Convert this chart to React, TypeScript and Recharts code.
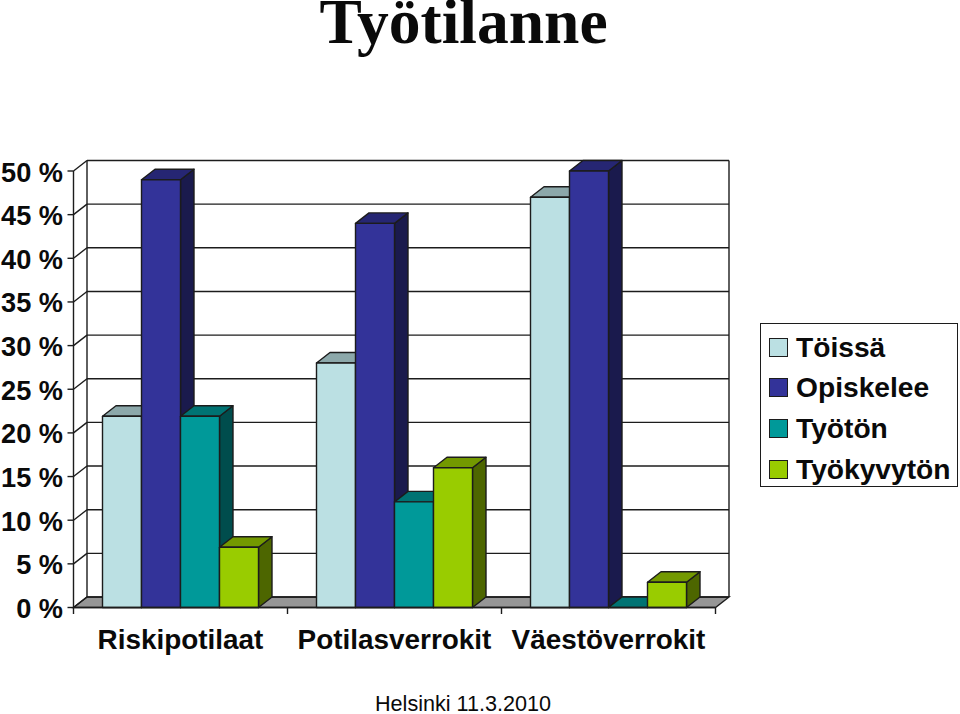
import React from "react"
import { BarChart, Bar, XAxis, YAxis, CartesianGrid, Legend } from "recharts"

const categories = ["Riskipotilaat", "Potilasverrokit", "Väestöverrokit"]
const toissa = [21.9, 28, 47]
const opiskelee = [49, 44, 50]
const tyoton = [21.9, 12.1, 0]
const tyokyvyton = [6.9, 16, 2.9]
const yTicks = [0, 5, 10, 15, 20, 25, 30, 35, 40, 45, 50]

const data = categories.map((name, i) => ({
  name,
  toissa: toissa[i],
  opiskelee: opiskelee[i],
  tyoton: tyoton[i],
  tyokyvyton: tyokyvyton[i],
}))

const W = 960
const H = 714
const LEFT = 73.5
const RIGHT = 715.5
const TOP = 171
const BOTTOM = 607.5
const DX = 13.5
const DY = 10.5
const INK = "#1c1c1c"
const LW = 1.4
const SANS = "'Liberation Sans', Arial, sans-serif"

const bandW = (RIGHT - LEFT) / categories.length

function box3d(fill: string, top: string, side: string) {
  return (p: any) => {
    const { x, y, width, height } = p
    const r = x + width
    const b = y + height
    return (
      <g stroke={INK} strokeWidth={LW} strokeLinejoin="round">
        <polygon fill={side} points={`${r},${y} ${r + DX},${y - DY} ${r + DX},${b - DY} ${r},${b}`} />
        <polygon fill={top} points={`${x},${y} ${x + DX},${y - DY} ${r + DX},${y - DY} ${r},${y}`} />
        <rect x={x} y={y} width={width} height={height} fill={fill} />
      </g>
    )
  }
}

// back wall, floor and the slanted bits, drawn from the grid so they stay under the bars
function wallLine(p: any) {
  const { x1, x2, y1, key } = p
  const isFloor = Math.abs(y1 - BOTTOM) < 1
  return (
    <g key={key} stroke={INK} strokeWidth={LW} fill="none">
      {isFloor && (
        <polygon
          fill="#969696"
          points={`${x1},${y1} ${x1 + DX},${y1 - DY} ${x2 + DX},${y1 - DY} ${x2},${y1}`}
        />
      )}
      {isFloor && <line x1={x1 + DX} x2={x1 + DX} y1={y1 - DY} y2={TOP - DY} />}
      {isFloor && <line x1={x2 + DX} x2={x2 + DX} y1={y1 - DY} y2={TOP - DY} />}
      <line x1={x1} y1={y1} x2={x1 + DX} y2={y1 - DY} />
      <line x1={x1 + DX} y1={y1 - DY} x2={x2 + DX} y2={y1 - DY} />
    </g>
  )
}

function CategoryTick(p: any) {
  const { x, payload, index } = p
  const left = x - bandW / 2
  return (
    <g>
      <line x1={left} x2={left} y1={BOTTOM} y2={BOTTOM + 6.5} stroke={INK} strokeWidth={LW} />
      {index === categories.length - 1 && (
        <line x1={left + bandW} x2={left + bandW} y1={BOTTOM} y2={BOTTOM + 6.5} stroke={INK} strokeWidth={LW} />
      )}
      <text x={x} y={649} textAnchor="middle" fontFamily={SANS} fontWeight="bold" fontSize={27.9} fill="#0a0a0a">
        {payload.value}
      </text>
    </g>
  )
}

function PercentTick(p: any) {
  const { y, payload } = p
  return (
    <text x={63} y={y + 10.5} textAnchor="end" fontFamily={SANS} fontWeight="bold" fontSize={27.2} fill="#0a0a0a">
      {payload.value} %
    </text>
  )
}

function LegendBox(p: any) {
  return (
    <div
      style={{
        boxSizing: "border-box",
        width: 198,
        height: 164,
        border: `1.4px solid ${INK}`,
        background: "#fff",
        position: "relative",
      }}
    >
      {p.payload.map((e: any, i: number) => (
        <div
          key={e.value}
          style={{
            position: "absolute",
            left: 8,
            top: 13 + i * 40.7,
            display: "flex",
            alignItems: "center",
            height: 20,
            whiteSpace: "nowrap",
          }}
        >
          <span
            style={{
              display: "inline-block",
              boxSizing: "border-box",
              width: 19,
              height: 19,
              background: e.color,
              border: `1.4px solid ${INK}`,
              marginRight: 8,
            }}
          />
          <span style={{ fontFamily: SANS, fontWeight: "bold", fontSize: 28.2, color: "#0a0a0a" }}>{e.value}</span>
        </div>
      ))}
    </div>
  )
}

export default function App() {
  return (
    <div style={{ position: "absolute", left: 0, top: 0, width: W, height: H, overflow: "hidden", background: "#fff" }}>
      <div
        style={{
          position: "absolute",
          left: 0,
          width: 927,
          top: -13,
          textAlign: "center",
          fontFamily: "'Liberation Serif', serif",
          fontWeight: "bold",
          fontSize: 63.5,
          lineHeight: "70px",
          color: "#0a0a0a",
        }}
      >
        Työtilanne
      </div>
      <BarChart
        width={W}
        height={H}
        data={data}
        barCategoryGap={29}
        barGap={0}
        margin={{ top: TOP, right: W - RIGHT, bottom: 0, left: LEFT - 70 }}
      >
        <CartesianGrid vertical={false} horizontal={wallLine} />
        <XAxis
          dataKey="name"
          height={H - BOTTOM}
          axisLine={{ stroke: INK, strokeWidth: LW }}
          tickLine={false}
          tick={<CategoryTick />}
          interval={0}
        />
        <YAxis
          width={70}
          domain={[0, 50]}
          ticks={yTicks}
          interval={0}
          axisLine={{ stroke: INK, strokeWidth: LW }}
          tickLine={{ stroke: INK, strokeWidth: LW }}
          tickSize={6}
          tick={<PercentTick />}
        />
        <Legend
          layout="vertical"
          align="center"
          verticalAlign="middle"
          itemSorter={null}
          content={<LegendBox />}
          wrapperStyle={{ left: 760, top: 323, width: 198, height: 164 }}
        />
        <Bar dataKey="toissa" name="Töissä" fill="#BBE0E3" isAnimationActive={false} shape={box3d("#BBE0E3", "#8CA8AA", "#5D7072")} />
        <Bar dataKey="opiskelee" name="Opiskelee" fill="#333399" isAnimationActive={false} shape={box3d("#333399", "#262673", "#1A1A4D")} />
        <Bar dataKey="tyoton" name="Työtön" fill="#009999" isAnimationActive={false} shape={box3d("#009999", "#007373", "#004D4D")} />
        <Bar dataKey="tyokyvyton" name="Työkyvytön" fill="#99CC00" isAnimationActive={false} shape={box3d("#99CC00", "#739900", "#4D6600")} />
      </BarChart>
      <div
        style={{
          position: "absolute",
          left: 375,
          top: 691,
          fontFamily: SANS,
          fontSize: 21.6,
          lineHeight: "26px",
          color: "#0a0a0a",
          whiteSpace: "nowrap",
        }}
      >
        Helsinki 11.3.2010
      </div>
    </div>
  )
}
